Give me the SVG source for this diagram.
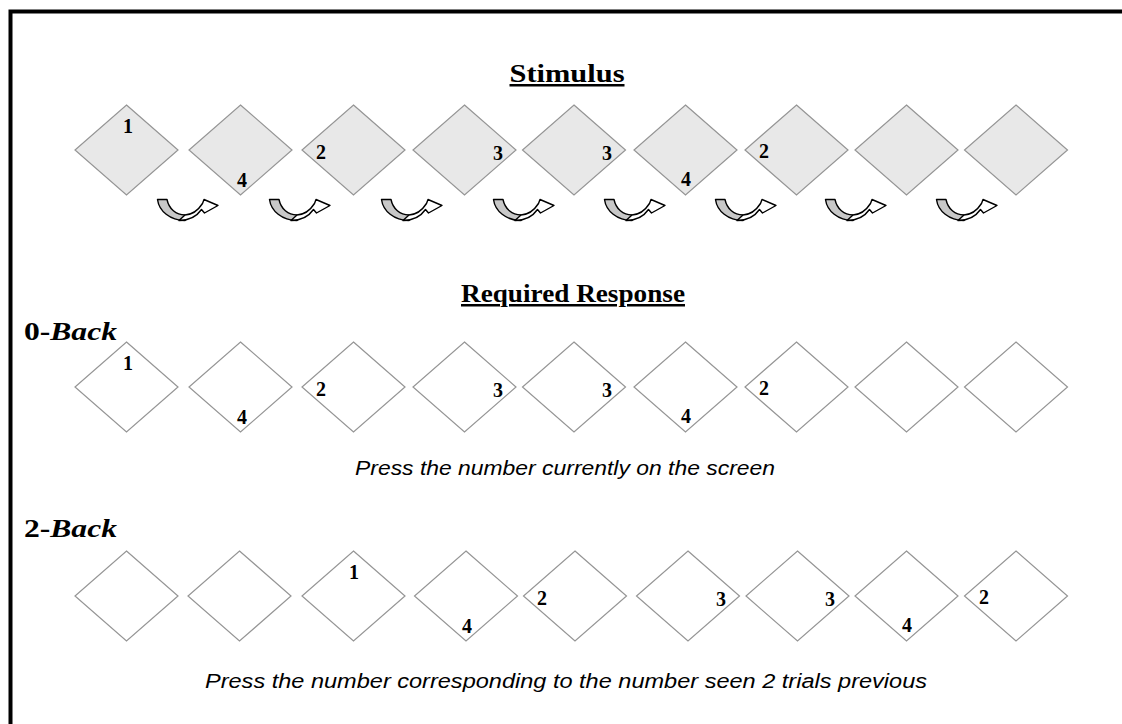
<svg xmlns="http://www.w3.org/2000/svg" xmlns:xlink="http://www.w3.org/1999/xlink" width="1122" height="724" viewBox="0 0 1122 724">
<style>
.frame{fill:none;stroke:#000;stroke-width:4}
.stim{fill:#e8e8e8;stroke:#959595;stroke-width:1.2}
.resp{fill:#fff;stroke:#959595;stroke-width:1.2}
.num{font-family:"Liberation Serif",serif;font-weight:bold;font-size:20px;fill:#000;text-anchor:middle}
.title{font-family:"Liberation Serif",serif;font-weight:bold;font-size:25px;fill:#000;text-anchor:middle;text-decoration:underline}
.label{font-family:"Liberation Serif",serif;font-weight:bold;font-size:26px;fill:#000}
.note{font-family:"Liberation Sans",Arial,sans-serif;font-style:italic;font-size:20px;fill:#000;text-anchor:middle}
.back{fill:#c8c8c8;stroke:#000;stroke-width:1.4;stroke-linejoin:round}
.front{fill:#fff;stroke:#000;stroke-width:1.4;stroke-linejoin:round}
</style>
<defs>
<polygon id="d" points="0,-45 51.5,0 0,45 -51.5,0"/>
<g id="arr">
<path class="back" d="M0.5,0.5 L10,0.5 C12,10 19,16 28,16 L28,21.5 C13,21.5 2,12 0.5,0.5 Z"/>
<path class="front" d="M22,21.5 C33,21.5 40,17 44.5,10.5 L47.5,14 L61,6.5 L47,0.5 L45.5,4.5 C42,10 36,15.5 28,16 Z"/>
</g>
</defs>
<rect width="1122" height="724" fill="#fff"/>
<path class="frame" d="M10.5,740 L10.5,11.5 L1140,11.5"/>

<text class="title" x="567" y="82" textLength="115" lengthAdjust="spacingAndGlyphs">Stimulus</text>

<g id="stimulus-row">
<g id="s1"><use xlink:href="#d" class="stim" x="126.5" y="150"/><text class="num" x="128" y="133">1</text></g>
<g id="s2"><use xlink:href="#d" class="stim" x="240.5" y="150"/><text class="num" x="242" y="187">4</text></g>
<g id="s3"><use xlink:href="#d" class="stim" x="353.5" y="150"/><text class="num" x="321" y="159">2</text></g>
<g id="s4"><use xlink:href="#d" class="stim" x="464.5" y="150"/><text class="num" x="498" y="160">3</text></g>
<g id="s5"><use xlink:href="#d" class="stim" x="574" y="150"/><text class="num" x="607" y="160">3</text></g>
<g id="s6"><use xlink:href="#d" class="stim" x="685.5" y="150"/><text class="num" x="686" y="186">4</text></g>
<g id="s7"><use xlink:href="#d" class="stim" x="796.5" y="150"/><text class="num" x="764" y="158">2</text></g>
<g id="s8"><use xlink:href="#d" class="stim" x="906.5" y="150"/></g>
<g id="s9"><use xlink:href="#d" class="stim" x="1016" y="150"/></g>
</g>

<g id="connectors">
<use xlink:href="#arr" x="157" y="199"/>
<use xlink:href="#arr" x="269" y="199"/>
<use xlink:href="#arr" x="381" y="199"/>
<use xlink:href="#arr" x="493" y="199"/>
<use xlink:href="#arr" x="604" y="199"/>
<use xlink:href="#arr" x="715" y="199"/>
<use xlink:href="#arr" x="825" y="199"/>
<use xlink:href="#arr" x="936" y="199"/>
</g>

<text class="title" x="573" y="302" textLength="224" lengthAdjust="spacingAndGlyphs">Required Response</text>

<text class="label" x="24" y="340" textLength="93" lengthAdjust="spacingAndGlyphs">0-<tspan font-style="italic">Back</tspan></text>

<g id="zero-back-row">
<g id="z1"><use xlink:href="#d" class="resp" x="126.5" y="387"/><text class="num" x="128" y="370">1</text></g>
<g id="z2"><use xlink:href="#d" class="resp" x="240.5" y="387"/><text class="num" x="242" y="424">4</text></g>
<g id="z3"><use xlink:href="#d" class="resp" x="353.5" y="387"/><text class="num" x="321" y="396">2</text></g>
<g id="z4"><use xlink:href="#d" class="resp" x="464.5" y="387"/><text class="num" x="498" y="397">3</text></g>
<g id="z5"><use xlink:href="#d" class="resp" x="574" y="387"/><text class="num" x="607" y="397">3</text></g>
<g id="z6"><use xlink:href="#d" class="resp" x="685.5" y="387"/><text class="num" x="686" y="423">4</text></g>
<g id="z7"><use xlink:href="#d" class="resp" x="796.5" y="387"/><text class="num" x="764" y="395">2</text></g>
<g id="z8"><use xlink:href="#d" class="resp" x="906.5" y="387"/></g>
<g id="z9"><use xlink:href="#d" class="resp" x="1016" y="387"/></g>
</g>

<text class="note" x="565" y="475" textLength="420" lengthAdjust="spacingAndGlyphs">Press the number currently on the screen</text>

<text class="label" x="24" y="537" textLength="93" lengthAdjust="spacingAndGlyphs">2-<tspan font-style="italic">Back</tspan></text>

<g id="two-back-row">
<g id="t1"><use xlink:href="#d" class="resp" x="126.5" y="596"/></g>
<g id="t2"><use xlink:href="#d" class="resp" x="239.5" y="596"/></g>
<g id="t3"><use xlink:href="#d" class="resp" x="353.5" y="596"/><text class="num" x="354" y="579">1</text></g>
<g id="t4"><use xlink:href="#d" class="resp" x="466" y="596"/><text class="num" x="467" y="633">4</text></g>
<g id="t5"><use xlink:href="#d" class="resp" x="575" y="596"/><text class="num" x="542" y="605">2</text></g>
<g id="t6"><use xlink:href="#d" class="resp" x="688" y="596"/><text class="num" x="721" y="606">3</text></g>
<g id="t7"><use xlink:href="#d" class="resp" x="797.5" y="596"/><text class="num" x="830" y="606">3</text></g>
<g id="t8"><use xlink:href="#d" class="resp" x="906.5" y="596"/><text class="num" x="907" y="632">4</text></g>
<g id="t9"><use xlink:href="#d" class="resp" x="1016" y="596"/><text class="num" x="984" y="604">2</text></g>
</g>

<text class="note" x="566" y="688" textLength="722" lengthAdjust="spacingAndGlyphs">Press the number corresponding to the number seen 2 trials previous</text>
</svg>
